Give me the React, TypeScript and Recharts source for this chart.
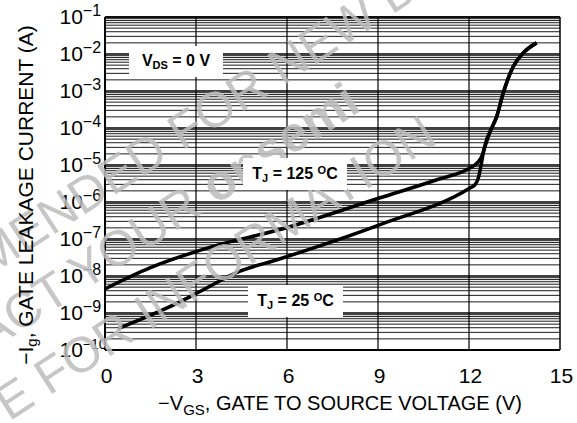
import { Line, LineChart, ReferenceLine, XAxis, YAxis } from "recharts";

const FONT = '"Liberation Sans", Arial, Helvetica, sans-serif';

// axis ticks
const vgsTicks = [0, 3, 6, 9, 12, 15];
const vgsGrid = [3, 6, 9, 12];
const decadeExponents = [-10, -9, -8, -7, -6, -5, -4, -3, -2, -1];
const minorSteps = [2, 3, 4, 5, 6, 7, 8, 9];

// TJ = 125 °C
const vgs125 = [0, 1.48, 3.56, 5.77, 9.07, 10.94, 12.03, 12.26, 12.42, 12.53, 12.64, 12.72, 12.91, 13.13, 13.46, 13.79, 14.23];
const ig125 = [4.5e-9, 1.66e-8, 6.3e-8, 1.8e-7, 1.3e-6, 4.0e-6, 8.3e-6, 1.12e-5, 1.7e-5, 3.2e-5, 5.9e-5, 8.9e-5, 2.0e-4, 8.9e-4, 4.6e-3, 1.07e-2, 2.0e-2];

// TJ = 25 °C
const vgs25 = [0.43, 2.47, 3.13, 4.45, 5.67, 9.07, 12.03, 12.2, 12.31, 12.39, 12.47, 12.58, 12.72, 12.91, 13.13, 13.46, 13.79, 14.23];
const ig25 = [3.8e-10, 2.0e-9, 3.8e-9, 1.35e-8, 2.75e-8, 2.45e-7, 2.4e-6, 2.95e-6, 4.5e-6, 9.1e-6, 2.1e-5, 4.8e-5, 8.9e-5, 2.0e-4, 8.9e-4, 4.6e-3, 1.07e-2, 2.0e-2];

const decades = decadeExponents.map((e) => Math.pow(10, e));
const minorValues = decadeExponents
  .slice(0, -1)
  .flatMap((e) => minorSteps.map((m) => m * Math.pow(10, e)));

const curve125 = vgs125.map((v, i) => ({ vgs: v, ig: ig125[i] }));
const curve25 = vgs25.map((v, i) => ({ vgs: v, ig: ig25[i] }));

function DecadeTick({ y, payload }: any) {
  const exp = Math.round(Math.log10(payload.value));
  return (
    <text x={59.5} y={y + 7.4} fontSize={21} fill="#000" fontFamily={FONT}>
      10
      <tspan dy={-8.4} fontSize={exp <= -10 ? 14 : 16}>{`\u2212${-exp}`}</tspan>
    </text>
  );
}

function VoltTick({ x, payload }: any) {
  return (
    <text x={x + 1.5} y={383} textAnchor="middle" fontSize={21} fill="#000" fontFamily={FONT}>
      {payload.value}
    </text>
  );
}

const boxStyle: React.CSSProperties = {
  position: "absolute",
  background: "#fff",
  display: "flex",
  alignItems: "center",
  justifyContent: "center",
  fontWeight: "bold",
  fontSize: 16,
  color: "#000",
  whiteSpace: "nowrap",
};

export default function App() {
  return (
    <div
      style={{
        position: "absolute",
        left: 0,
        top: 0,
        width: 577,
        height: 423,
        background: "#fff",
        fontFamily: FONT,
        overflow: "hidden",
      }}
    >
      <LineChart width={577} height={423} margin={{ top: 17, right: 17, bottom: 0, left: 0 }}>
        <XAxis
          dataKey="vgs"
          type="number"
          domain={[0, 15]}
          ticks={vgsTicks}
          height={73}
          tickLine={false}
          axisLine={{ stroke: "#000", strokeWidth: 2 }}
          tick={<VoltTick />}
          allowDataOverflow
        />
        <YAxis
          type="number"
          scale="log"
          domain={[1e-10, 1e-1]}
          ticks={decades}
          width={105}
          tickLine={false}
          axisLine={{ stroke: "#000", strokeWidth: 2 }}
          tick={<DecadeTick />}
          allowDataOverflow
        />
        {minorValues.map((v) => (
          <ReferenceLine key={`m${v}`} y={v} stroke="#000" strokeWidth={0.9} />
        ))}
        {decades.map((v) => (
          <ReferenceLine key={`d${v}`} y={v} stroke="#000" strokeWidth={1.3} />
        ))}
        {vgsGrid.map((v) => (
          <ReferenceLine key={`v${v}`} x={v} stroke="#000" strokeWidth={1.2} />
        ))}
        <ReferenceLine x={15} stroke="#000" strokeWidth={1.5} />
        <ReferenceLine y={1e-1} stroke="#000" strokeWidth={1.5} />
        <Line
          data={curve125}
          dataKey="ig"
          type="monotone"
          stroke="#000"
          strokeWidth={3.5}
          dot={false}
          isAnimationActive={false}
        />
        <Line
          data={curve25}
          dataKey="ig"
          type="monotone"
          stroke="#000"
          strokeWidth={3.5}
          dot={false}
          isAnimationActive={false}
        />
      </LineChart>

      <svg
        width={577}
        height={423}
        style={{ position: "absolute", left: 0, top: 0, pointerEvents: "none", opacity: 0.85 }}
      >
        <g fontFamily={FONT} fontSize={50} fill="#bdbdbd">
          <text transform="translate(-10,276) rotate(-33)" x={-306}>
            NOT RECOMMENDED FOR NEW DESIGN
          </text>
          <text transform="translate(88,288) rotate(-33)" x={-256}>
            CONTACT YOUR <tspan fontWeight="bold">onsemi</tspan>
          </text>
          <text transform="translate(55,392) rotate(-33)" x={-464}>
            REPRESENTATIVE FOR INFORMATION
          </text>
        </g>
      </svg>

      <div style={{ ...boxStyle, left: 129, top: 46, width: 94, height: 31 }}>
        <span>
          V<sub style={{ fontSize: 11, verticalAlign: "-3px" }}>DS</sub> = 0 V
        </span>
      </div>
      <div style={{ ...boxStyle, left: 243, top: 158, width: 104, height: 32 }}>
        <span>
          T<sub style={{ fontSize: 11, verticalAlign: "-3px" }}>J</sub> = 125{" "}
          <sup style={{ fontSize: 11, verticalAlign: "5px" }}>O</sup>C
        </span>
      </div>
      <div style={{ ...boxStyle, left: 248, top: 285, width: 95, height: 32 }}>
        <span>
          T<sub style={{ fontSize: 11, verticalAlign: "-3px" }}>J</sub> = 25{" "}
          <sup style={{ fontSize: 11, verticalAlign: "5px" }}>O</sup>C
        </span>
      </div>

      <div
        style={{
          position: "absolute",
          left: 27,
          top: 195,
          transform: "translate(-50%, -50%) rotate(-90deg)",
          fontSize: 21,
          whiteSpace: "nowrap",
          color: "#000",
        }}
      >
        {"\u2212"}I<sub style={{ fontSize: 15, verticalAlign: "-4px" }}>g</sub>, GATE LEAKAGE CURRENT (A)
      </div>
      <div
        style={{
          position: "absolute",
          left: 340,
          top: 405,
          transform: "translate(-50%, -50%)",
          fontSize: 20,
          whiteSpace: "nowrap",
          color: "#000",
        }}
      >
        {"\u2212"}V<sub style={{ fontSize: 15, verticalAlign: "-5px" }}>GS</sub>, GATE TO SOURCE VOLTAGE (V)
      </div>
    </div>
  );
}
